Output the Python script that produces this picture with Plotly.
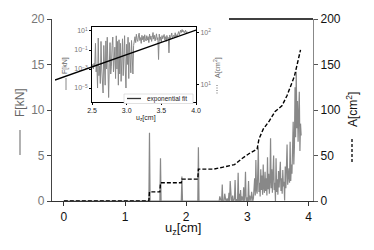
import numpy as np
import plotly.graph_objects as go

# ---------------- data ----------------
# force F [kN] vs displacement u_z [cm]
u_early = [0.00, 1.39, 1.40, 1.41, 1.57, 1.58, 1.59, 1.92, 1.93, 1.94, 2.19, 2.20, 2.21, 2.49]
F_early = [0.0, 0.0, 7.5, 0.0, 0.0, 4.7, 0.0, 0.0, 2.7, 0.0, 0.0, 5.9, 0.0, 0.0]

u_late = list(np.round(np.arange(2.50, 3.885, 0.01), 2))
F_late = [
    0.002, 0.003, 0.001, 0.004, 0.002, 0.5, 0.0005, 0.003, 0.00001, 1.8,
    0.0002, 0.002, 0.00003, 0.8, 0.001, 0.0001, 0.000003, 0.3, 0.002, 0.00002,
    0.9, 0.001, 2.2, 0.0001, 0.000001, 0.004, 0.6, 0.0003, 0.002, 0.3,
    2.3, 0.0005, 0.01, 0.2, 0.0001, 3.1, 0.001, 0.8, 0.00002, 1.2,
    0.0003, 0.5, 0.00005, 0.002, 1.5, 0.0002, 0.7, 3.2, 0.001, 0.00001,
    0.4, 0.003, 2.2, 0.0001, 0.6, 0.002, 0.0004, 1.0, 0.01, 0.0003,
    0.3, 1.5, 2.5, 0.6, 4.5, 1.2, 0.8, 3.0, 5.9, 1.0,
    2.0, 0.5, 3.5, 1.2, 2.8, 0.7, 4.0, 1.5, 0.9, 3.2,
    1.1, 2.5, 0.6, 4.8, 1.3, 3.0, 0.8, 2.2, 6.9, 1.4,
    3.5, 0.9, 2.6, 5.0, 1.2, 2.0, 0.01, 4.7, 1.0, 2.4,
    0.7, 3.3, 1.5, 2.8, 4.3, 1.1, 2.5, 0.8, 3.4, 1.6,
    2.1, 0.05, 3.8, 1.4, 4.5, 6.2, 1.8, 2.5, 3.6, 2.0,
    6.5, 2.2, 4.0, 3.0, 5.5, 8.7, 4.0, 6.0, 12.5, 7.0,
    14.2, 8.0, 11.0, 6.5, 9.5, 12.0, 5.5, 8.5, 7.2,
]
u_F = u_early + u_late
F_kN = F_early + F_late

# contact area A [cm^2]
u_A = [0.00, 1.39, 1.40, 1.57, 1.58, 1.92, 1.93, 2.19, 2.20, 2.45, 2.59, 2.79, 2.92,
       3.05, 3.16, 3.19, 3.26, 3.36, 3.45, 3.57, 3.65, 3.77, 3.87]
A_cm2 = [0, 0, 10, 10, 20, 20, 24, 24, 35, 35, 37, 40, 47,
         53, 57, 68, 79, 88, 98, 105, 116, 137, 166]

# exponential fit (straight line on log axis)
fit_u = [1.97, 4.0]
fit_F = [6.9e-5, 12.6]

x_ticks = [0, 1, 2, 3, 4]
F_ticks = [0, 5, 10, 15, 20]
A_ticks = [0, 50, 100, 150, 200]
inset_x_ticks = [2.5, 3.0, 3.5, 4.0]
inset_x_text = ["2.5", "3.0", "3.5", "4.0"]
inset_F_ticks = [1e-5, 1e-3, 1e-1, 1e1]
inset_F_text = ["10<sup>−5</sup>", "10<sup>−3</sup>", "10<sup>−1</sup>", "10<sup>1</sup>"]
inset_A_ticks = [10, 100]
inset_A_text = ["10<sup>1</sup>", "10<sup>2</sup>"]

# ---------------- layout helpers ----------------
W, H = 374, 250
L, R, T, B = 52, 313, 19, 201


def px(x):
    return (x - L) / (R - L)


def py(y):
    return (B - y) / (B - T)


FONT = "Liberation Sans, Arial, sans-serif"
GRAY = "#888888"

fig = go.Figure()

# main traces
fig.add_trace(go.Scatter(x=u_F, y=F_kN, mode="lines", xaxis="x", yaxis="y",
                         line=dict(color=GRAY, width=1.2), showlegend=False))
fig.add_trace(go.Scatter(x=u_A, y=A_cm2, mode="lines", xaxis="x", yaxis="y2",
                         line=dict(color="black", width=1.4, dash="4px,2px"), showlegend=False))

# inset traces
fig.add_trace(go.Scatter(x=u_late, y=F_late, mode="lines", xaxis="x3", yaxis="y3",
                         line=dict(color=GRAY, width=1.0), showlegend=False))
fig.add_trace(go.Scatter(x=[], y=[], mode="lines", xaxis="x3", yaxis="y4", showlegend=False))
fig.add_trace(go.Scatter(x=fit_u, y=fit_F, mode="lines", xaxis="x4", yaxis="y3",
                         line=dict(color="black", width=1.3), showlegend=False))

ix0, ix1, iy0, iy1 = 92, 196, 27, 102

fig.update_layout(
    width=W, height=H,
    margin=dict(l=L, r=W - R, t=T, b=H - B, pad=0),
    paper_bgcolor="white", plot_bgcolor="rgba(0,0,0,0)",
    font=dict(family=FONT, size=12, color="black"),
    xaxis=dict(domain=[0, 1], range=[-0.194, 4.074], tickvals=x_ticks,
               showline=True, linecolor="#333", linewidth=1.2, ticks="outside",
               ticklen=4, tickcolor="#333", showgrid=False, zeroline=False,
               tickfont=dict(size=12, color="#111"), anchor="y"),
    yaxis=dict(range=[0, 20], tickvals=F_ticks, showline=True, linecolor="#444",
               linewidth=1.2, ticks="outside", ticklen=4, tickcolor="#444",
               showgrid=False, zeroline=False, tickfont=dict(size=12, color="#777")),
    yaxis2=dict(range=[0, 200], tickvals=A_ticks, overlaying="y", side="right",
                showline=True, linecolor="#888", linewidth=1.2, ticks="outside",
                ticklen=4, tickcolor="#555", showgrid=False, zeroline=False,
                tickfont=dict(size=12, color="#111"), anchor="x"),
    xaxis3=dict(domain=[px(ix0), px(ix1)], range=[2.5, 4.0], anchor="y3",
                tickvals=inset_x_ticks, ticktext=inset_x_text, showline=True,
                mirror=True, linecolor="black", linewidth=0.8, ticks="outside",
                ticklen=2, tickcolor="black", showgrid=False, zeroline=False,
                tickfont=dict(size=7, color="#222")),
    yaxis3=dict(domain=[py(iy1), py(iy0)], type="log", range=[-6.47, 1.42], anchor="x3",
                tickvals=inset_F_ticks, ticktext=inset_F_text, showline=True,
                mirror=True, linecolor="black", linewidth=0.8, ticks="outside",
                ticklen=2, tickcolor="black", showgrid=False, zeroline=False,
                tickfont=dict(size=7, color="#777")),
    yaxis4=dict(type="log", range=[0.673, 2.115], overlaying="y3", side="right",
                anchor="x3", tickvals=inset_A_ticks, ticktext=inset_A_text,
                ticks="outside", ticklen=2, tickcolor="black", showgrid=False,
                zeroline=False, showline=False, tickfont=dict(size=7, color="#777")),
    xaxis4=dict(domain=[px(55), px(ix1)], range=[1.97, 4.0], anchor="y3", visible=False),
)

annotations = [
    dict(text="u<sub>z</sub>[cm]", x=px(183), y=py(229), font=dict(size=13, color="#111")),
    dict(text="F[kN]", x=px(20), y=py(103), textangle=-90, font=dict(size=12, color="#666")),
    dict(text="A[cm<sup>2</sup>]", x=px(352), y=py(110), textangle=-90, font=dict(size=12, color="#111")),
    dict(text="u<sub>z</sub>[cm]", x=px(146), y=py(118), font=dict(size=7, color="#222")),
    dict(text="F[kN]", x=px(65), y=py(66), textangle=-90, font=dict(size=7, color="#666")),
    dict(text="A[cm<sup>2</sup>]", x=px(217), y=py(68), textangle=-90, font=dict(size=7, color="#666")),
    dict(text="exponential fit", x=px(145), y=py(98.5), xanchor="left", font=dict(size=6.5, color="#222")),
]
for a in annotations:
    a.setdefault("xanchor", "center")
    a.update(xref="paper", yref="paper", showarrow=False, yanchor="middle")
fig.update_layout(annotations=annotations)

shapes = [
    # top black segment
    dict(type="line", x0=px(229), x1=px(313), y0=1, y1=1, line=dict(color="black", width=1.5)),
    # axis label line markers
    dict(type="line", x0=px(20), x1=px(20), y0=py(130), y1=py(155), line=dict(color=GRAY, width=1.3)),
    dict(type="line", x0=px(352), x1=px(352), y0=py(139), y1=py(162), line=dict(color="black", width=1.3, dash="3px,2px")),
    dict(type="line", x0=px(66), x1=px(66), y0=py(78), y1=py(90), line=dict(color=GRAY, width=1.0)),
    dict(type="line", x0=px(217), x1=px(217), y0=py(85), y1=py(94), line=dict(color="#666", width=1.0, dash="1px,1.5px")),
    # inset legend
    dict(type="rect", x0=px(124), x1=px(193), y0=py(103.5), y1=py(94), fillcolor="white",
         line=dict(color="#ccc", width=0.6)),
    dict(type="line", x0=px(127), x1=px(141), y0=py(98.5), y1=py(98.5), line=dict(color="#333", width=1.3)),
]
for s in shapes:
    s.update(xref="paper", yref="paper")
fig.update_layout(shapes=shapes)

fig.write_html("out.html", config={"displayModeBar": False},
               post_script="document.body.style.margin='0';document.body.style.overflow='hidden';")
